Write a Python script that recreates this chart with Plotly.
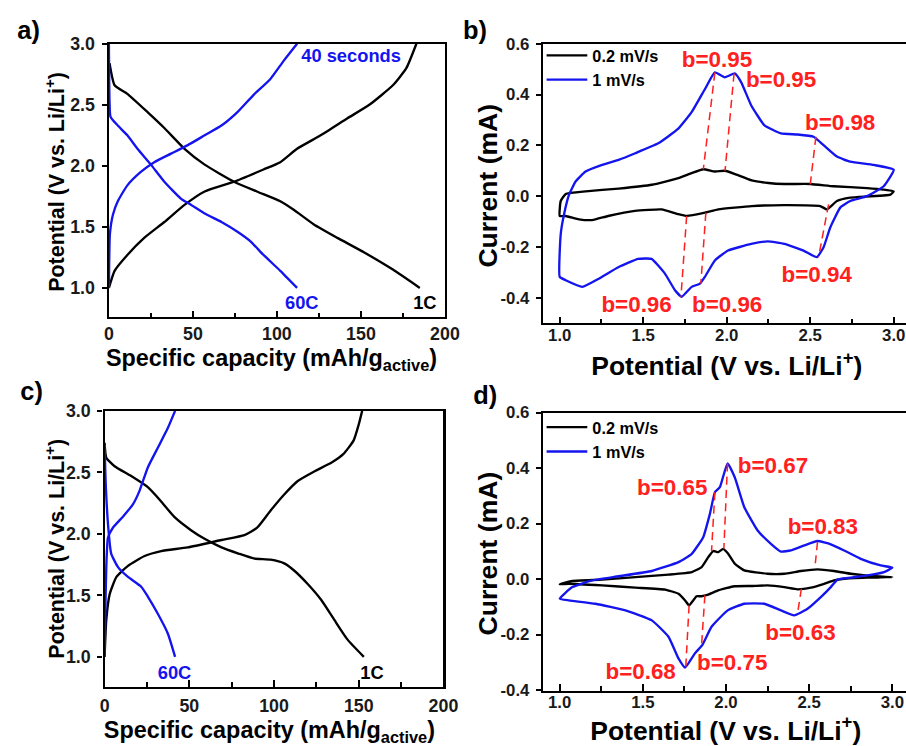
import plotly.graph_objects as go

# ---------------- Data ----------------
# Panel a: galvanostatic curves (capacity mAh/g, potential V)
a_1c_dis_x = [0.4, 3.4, 11, 23, 33, 45, 57, 74.5, 88, 102, 110, 122, 136, 152, 169, 185]
a_1c_dis_y = [2.84, 2.66, 2.59, 2.44, 2.31, 2.14, 2.01, 1.87, 1.79, 1.71, 1.64, 1.52, 1.41, 1.29, 1.15, 1.0]
a_1c_chg_x = [0, 3.4, 11, 21, 33, 45, 57, 74.5, 92, 102, 112, 126, 142, 155, 169, 177, 183]
a_1c_chg_y = [1.0, 1.14, 1.27, 1.41, 1.54, 1.68, 1.79, 1.87, 1.97, 2.03, 2.14, 2.25, 2.39, 2.50, 2.66, 2.80, 3.0]
a_60c_dis_x = [0, 0.4, 1, 5.3, 11, 17, 25, 33, 43, 49, 57, 67, 76.5, 84.4, 92, 102, 112]
a_60c_dis_y = [3.0, 2.52, 2.40, 2.33, 2.25, 2.14, 2.01, 1.87, 1.73, 1.68, 1.61, 1.54, 1.46, 1.38, 1.27, 1.14, 1.0]
a_60c_chg_x = [0, 0.2, 0.6, 2.4, 5.3, 11, 19, 27, 37, 47, 57, 67, 76.5, 86, 96, 104, 112]
a_60c_chg_y = [1.0, 1.22, 1.44, 1.60, 1.71, 1.84, 1.95, 2.03, 2.10, 2.17, 2.25, 2.33, 2.44, 2.58, 2.71, 2.86, 3.0]

# Panel c: galvanostatic curves
c_1c_dis_x = [0, 1, 5.9, 15.7, 25.5, 33, 41, 51, 59, 69, 79, 88, 98, 106, 112, 120, 128, 135.6, 143.4, 153]
c_1c_dis_y = [2.74, 2.62, 2.55, 2.47, 2.38, 2.27, 2.14, 2.03, 1.96, 1.89, 1.84, 1.80, 1.79, 1.76, 1.70, 1.59, 1.46, 1.30, 1.14, 1.0]
c_1c_chg_x = [0, 1, 3, 7, 13.8, 23.6, 33.4, 49, 69, 82.5, 90, 98, 106, 114, 124, 134, 141, 147, 150, 152]
c_1c_chg_y = [1.0, 1.30, 1.51, 1.65, 1.74, 1.82, 1.86, 1.89, 1.95, 1.99, 2.05, 2.19, 2.32, 2.43, 2.51, 2.58, 2.65, 2.76, 2.89, 3.0]
c_60c_dis_x = [0, 0.6, 2, 3.9, 7.9, 13.8, 21.6, 25.5, 31.4, 37.3, 41.6]
c_60c_dis_y = [2.73, 2.43, 2.08, 1.84, 1.73, 1.65, 1.57, 1.49, 1.35, 1.19, 1.0]
c_60c_chg_x = [0, 0.4, 1, 2, 4.9, 10.8, 16.7, 20.6, 25.5, 31.4, 37.3, 41.6]
c_60c_chg_y = [1.0, 1.35, 1.73, 1.97, 2.05, 2.14, 2.24, 2.35, 2.54, 2.70, 2.86, 3.0]

# Panel b: cyclic voltammograms (V, mA)
b_slow_x = [1.0, 1.006, 1.036, 1.155, 1.353, 1.552, 1.71, 1.79, 1.86, 1.93, 1.99, 2.05, 2.15, 2.25, 2.345, 2.50,
            2.64, 2.84, 2.94, 3.0, 2.98, 2.74, 2.66, 2.60, 2.56, 2.345, 2.15, 1.95, 1.87, 1.76, 1.71, 1.61,
            1.45, 1.29, 1.194, 1.115, 1.036, 1.0]
b_slow_y = [-0.078, -0.019, 0.009, 0.019, 0.030, 0.045, 0.071, 0.091, 0.106, 0.097, 0.100, 0.087, 0.062, 0.052,
            0.048, 0.048, 0.039, 0.032, 0.026, 0.019, 0.006, -0.006, -0.019, -0.052, -0.039, -0.035, -0.039,
            -0.052, -0.065, -0.078, -0.071, -0.052, -0.058, -0.078, -0.094, -0.091, -0.078, -0.078]
b_fast_x = [1.0, 1.006, 1.026, 1.056, 1.095, 1.155, 1.254, 1.353, 1.452, 1.59, 1.71, 1.79, 1.87, 1.929, 1.988,
            2.048, 2.087, 2.147, 2.226, 2.325, 2.425, 2.52, 2.58, 2.66, 2.74, 2.88, 3.0, 2.94, 2.84, 2.74, 2.68,
            2.62, 2.58, 2.54, 2.46, 2.345, 2.246, 2.147, 2.008, 1.929, 1.869, 1.84, 1.79, 1.73, 1.69, 1.63,
            1.55, 1.47, 1.353, 1.234, 1.135, 1.036, 1.0]
b_fast_y = [-0.318, -0.149, -0.071, 0.006, 0.058, 0.097, 0.123, 0.143, 0.169, 0.208, 0.266, 0.331, 0.422, 0.487,
            0.468, 0.483, 0.448, 0.357, 0.279, 0.247, 0.243, 0.234, 0.201, 0.156, 0.136, 0.123, 0.104, 0.039,
            0.0, -0.019, -0.045, -0.123, -0.201, -0.240, -0.214, -0.188, -0.178, -0.188, -0.214, -0.253, -0.318,
            -0.344, -0.357, -0.396, -0.370, -0.305, -0.247, -0.247, -0.279, -0.325, -0.357, -0.331, -0.318]
# peak-tracking guides (start/end pairs)
b_guides_x = [[1.929, 1.86], [2.044, 1.99], [2.534, 2.50], [1.76, 1.726], [1.875, 1.845], [2.61, 2.55]]
b_guides_y = [[0.487, 0.106], [0.483, 0.100], [0.234, 0.045], [-0.078, -0.396], [-0.065, -0.344], [-0.032, -0.240]]
b_labels = ["b=0.95", "b=0.95", "b=0.98", "b=0.94", "b=0.96", "b=0.96"]
b_label_x = [1.94, 2.325, 2.68, 2.544, 1.462, 2.004]
b_label_y = [0.539, 0.461, 0.29, -0.309, -0.426, -0.426]

# Panel d: cyclic voltammograms
d_slow_x = [1.0, 1.076, 1.255, 1.455, 1.654, 1.794, 1.853, 1.893, 1.923, 1.953, 1.983, 2.013, 2.053, 2.11, 2.25,
            2.35, 2.45, 2.55, 2.65, 2.75, 2.85, 3.0, 2.85, 2.71, 2.65, 2.59, 2.51, 2.43, 2.35, 2.25, 2.15,
            2.05, 1.953, 1.893, 1.853, 1.823, 1.803, 1.778, 1.754, 1.714, 1.634, 1.455, 1.255, 1.056, 1.0]
d_slow_y = [-0.019, -0.007, -0.002, 0.007, 0.016, 0.025, 0.043, 0.079, 0.101, 0.097, 0.109, 0.091, 0.055, 0.031,
            0.019, 0.019, 0.029, 0.035, 0.029, 0.019, 0.012, 0.007, 0.005, 0.001, -0.005, -0.017, -0.031,
            -0.037, -0.029, -0.023, -0.025, -0.026, -0.041, -0.056, -0.062, -0.062, -0.077, -0.095, -0.077,
            -0.053, -0.038, -0.031, -0.023, -0.017, -0.019]
d_fast_x = [1.0, 1.076, 1.195, 1.355, 1.554, 1.714, 1.794, 1.863, 1.903, 1.933, 1.963, 2.009, 2.053, 2.11, 2.19,
            2.27, 2.33, 2.39, 2.47, 2.55, 2.63, 2.71, 2.81, 2.93, 3.0, 2.95, 2.85, 2.75, 2.67, 2.63, 2.57,
            2.49, 2.41, 2.33, 2.23, 2.11, 2.01, 1.913, 1.857, 1.813, 1.754, 1.714, 1.654, 1.554, 1.395, 1.215,
            1.056, 1.0]
d_fast_y = [-0.071, -0.029, -0.005, 0.010, 0.029, 0.061, 0.091, 0.151, 0.235, 0.313, 0.331, 0.417, 0.366, 0.259,
            0.175, 0.127, 0.099, 0.103, 0.121, 0.137, 0.125, 0.103, 0.073, 0.049, 0.041, 0.025, 0.013, 0.005,
            -0.002, -0.029, -0.065, -0.107, -0.131, -0.113, -0.089, -0.089, -0.113, -0.172, -0.238, -0.268,
            -0.319, -0.286, -0.208, -0.149, -0.113, -0.089, -0.077, -0.071]
d_guides_x = [[1.933, 1.913], [2.009, 1.987], [2.55, 2.537], [1.778, 1.758], [1.873, 1.853], [2.453, 2.433]]
d_guides_y = [[0.313, 0.101], [0.417, 0.109], [0.133, 0.057], [-0.095, -0.316], [-0.059, -0.238], [-0.035, -0.113]]
d_labels = ["b=0.65", "b=0.67", "b=0.83", "b=0.63", "b=0.75", "b=0.68"]
d_label_x = [1.674, 2.282, 2.58, 2.45, 2.04, 1.485]
d_label_y = [0.333, 0.408, 0.189, -0.19, -0.302, -0.334]

gc_xticks = [0, 50, 100, 150, 200]
gc_yticks = [1.0, 1.5, 2.0, 2.5, 3.0]
gc_yticktext = ["1.0", "1.5", "2.0", "2.5", "3.0"]
cv_xticks = [1.0, 1.5, 2.0, 2.5, 3.0]
cv_xticktext = ["1.0", "1.5", "2.0", "2.5", "3.0"]
cv_yticks = [-0.4, -0.2, 0.0, 0.2, 0.4, 0.6]
cv_yticktext = ["-0.4", "-0.2", "0.0", "0.2", "0.4", "0.6"]
legend_names = ["0.2 mV/s", "1 mV/s"]

# ---------------- Styles ----------------
FONT = "Liberation Sans, Arial, sans-serif"
BLACK = "#000000"
BLUE = "#1414ee"
RED = "#ff2020"
TICKCOL = "#1a1a1a"
LW = 2.3

fig = go.Figure()

def add_line(x, y, color, xa, ya, name=None, legend=None, show=False, smooth=0.5):
    fig.add_trace(go.Scatter(x=x, y=y, mode="lines",
                             line=dict(color=color, width=LW, shape="spline", smoothing=smooth),
                             xaxis=xa, yaxis=ya, name=name, showlegend=show,
                             legend=legend, hoverinfo="skip"))

# panel a
add_line(a_1c_dis_x, a_1c_dis_y, BLACK, "x", "y")
add_line(a_1c_chg_x, a_1c_chg_y, BLACK, "x", "y")
add_line(a_60c_dis_x, a_60c_dis_y, BLUE, "x", "y")
add_line(a_60c_chg_x, a_60c_chg_y, BLUE, "x", "y")
# panel c
add_line(c_1c_dis_x, c_1c_dis_y, BLACK, "x3", "y3")
add_line(c_1c_chg_x, c_1c_chg_y, BLACK, "x3", "y3")
add_line(c_60c_dis_x, c_60c_dis_y, BLUE, "x3", "y3")
add_line(c_60c_chg_x, c_60c_chg_y, BLUE, "x3", "y3")
# panel b
add_line(b_slow_x, b_slow_y, BLACK, "x2", "y2", legend_names[0], "legend", True, 0.4)
add_line(b_fast_x, b_fast_y, BLUE, "x2", "y2", legend_names[1], "legend", True, 0.4)
for gx, gy in zip(b_guides_x, b_guides_y):
    fig.add_trace(go.Scatter(x=gx, y=gy, mode="lines", line=dict(color=RED, width=1.5, dash="8px,5px"),
                             xaxis="x2", yaxis="y2", showlegend=False, hoverinfo="skip"))
# panel d
add_line(d_slow_x, d_slow_y, BLACK, "x4", "y4", legend_names[0], "legend2", True, 0.4)
add_line(d_fast_x, d_fast_y, BLUE, "x4", "y4", legend_names[1], "legend2", True, 0.4)
for gx, gy in zip(d_guides_x, d_guides_y):
    fig.add_trace(go.Scatter(x=gx, y=gy, mode="lines", line=dict(color=RED, width=1.5, dash="8px,5px"),
                             xaxis="x4", yaxis="y4", showlegend=False, hoverinfo="skip"))

W, H = 906, 746
def px(v):
    return v / W
def py(v):
    return 1 - v / H

def xaxis(dom, rng, tickvals, ticktext, minor, anchor, standoff, fsize):
    return dict(domain=dom, range=rng, tickvals=tickvals, ticktext=ticktext, anchor=anchor,
                showline=True, linecolor="black", linewidth=2.4, mirror=True,
                ticks="inside", ticklen=6, tickwidth=2, tickcolor="black",
                minor=dict(ticks="inside", ticklen=4, tickwidth=2, tickcolor="black", tickvals=minor),
                showgrid=False, zeroline=False, ticklabelstandoff=standoff,
                tickfont=dict(family=FONT, size=fsize, color=TICKCOL, weight="bold"))

def yaxis(dom, rng, tickvals, ticktext, anchor, standoff, fsize):
    return dict(domain=dom, range=rng, tickvals=tickvals, ticktext=ticktext, anchor=anchor,
                showline=True, linecolor="black", linewidth=2.4, mirror=True,
                ticks="outside", ticklen=5, tickwidth=2, tickcolor="black",
                showgrid=False, zeroline=False, ticklabelstandoff=standoff,
                tickfont=dict(family=FONT, size=fsize, color=TICKCOL, weight="bold"))

gc_minor = [25, 75, 125, 175]
cv_minor = [1.25, 1.75, 2.25, 2.75]

fig.update_layout(
    width=W, height=H, margin=dict(l=0, r=0, t=0, b=0),
    paper_bgcolor="white", plot_bgcolor="white",
    font=dict(family=FONT, color="black"),
    xaxis=xaxis([px(104.3), px(442)], [0, 200], gc_xticks, [str(v) for v in gc_xticks], gc_minor, "y", -1, 17.5),
    yaxis=yaxis([py(316), py(41.7)], [0.76, 3.0], gc_yticks, gc_yticktext, "x", 3, 17.5),
    xaxis2=xaxis([px(540.7), 1.0], [0.901, 3.078], cv_xticks, cv_xticktext, cv_minor, "y2", -5, 16.5),
    yaxis2=yaxis([py(322), py(41.7)], [-0.5, 0.6], cv_yticks, cv_yticktext, "x2", 3, 16.5),
    xaxis3=xaxis([px(100), px(440.5)], [0, 200], gc_xticks, [str(v) for v in gc_xticks], gc_minor, "y3", 2, 17.5),
    yaxis3=yaxis([py(686.7), py(410)], [0.757, 3.0], gc_yticks, gc_yticktext, "x3", 3, 17.5),
    xaxis4=xaxis([px(540.7), 1.0], [0.9007, 3.0866], cv_xticks, cv_xticktext, cv_minor, "y4", -5, 16.5),
    yaxis4=yaxis([py(690.7), py(411.7)], [-0.4025, 0.6], cv_yticks, cv_yticktext, "x4", 3, 16.5),
    legend=dict(x=px(539), y=py(36), xanchor="left", yanchor="top", bgcolor="rgba(0,0,0,0)",
                font=dict(family=FONT, size=16, color="black", weight="bold"), tracegroupgap=0,
                itemwidth=40),
    legend2=dict(x=px(539), y=py(409), xanchor="left", yanchor="top", bgcolor="rgba(0,0,0,0)",
                 font=dict(family=FONT, size=16, color="black", weight="bold"), tracegroupgap=0,
                 itemwidth=40),
)

ann = []
def txt(text, x, y, xref, yref, size, color="black", angle=0, xanchor="center", yanchor="middle"):
    ann.append(dict(text=text, x=x, y=y, xref=xref, yref=yref, showarrow=False, textangle=angle,
                    xanchor=xanchor, yanchor=yanchor,
                    font=dict(family=FONT, size=size, color=color, weight="bold")))

# panel letters
txt("a)", px(24), py(28), "paper", "paper", 25)
txt("b)", px(472), py(28), "paper", "paper", 25)
txt("c)", px(27), py(389), "paper", "paper", 25)
txt("d)", px(483), py(394), "paper", "paper", 25)

# axis titles
gc_xt = "Specific capacity (mAh/g<sub>active</sub>)"
pot_t = "Potential (V vs. Li/Li<sup>+</sup>)"
cur_t = "Current (mA)"
txt(gc_xt, px(268), py(358), "paper", "paper", 23)
txt(pot_t, px(50), py(180), "paper", "paper", 21, angle=-90)
txt(pot_t, px(725), py(363), "paper", "paper", 26)
txt(cur_t, px(485), py(184), "paper", "paper", 26, angle=-90)
txt(gc_xt, px(266), py(731), "paper", "paper", 23)
txt(pot_t, px(50), py(548), "paper", "paper", 21, angle=-90)
txt(pot_t, px(724), py(729), "paper", "paper", 26)
txt(cur_t, px(485), py(553), "paper", "paper", 26, angle=-90)

# curve labels
txt("40 seconds", 113, 2.90, "x", "y", 18, BLUE, xanchor="left")
txt("60C", 115, 0.88, "x", "y", 18, BLUE)
txt("1C", 188, 0.88, "x", "y", 18, BLACK)
txt("60C", 41, 0.87, "x3", "y3", 18, BLUE)
txt("1C", 158, 0.87, "x3", "y3", 18, BLACK)

for t, x, y in zip(b_labels, b_label_x, b_label_y):
    txt(t, x, y, "x2", "y2", 22, RED)
for t, x, y in zip(d_labels, d_label_x, d_label_y):
    txt(t, x, y, "x4", "y4", 22, RED)

fig.update_layout(annotations=ann)

# page framing: pin the figure to the page origin and fill the captured page area
post = (
    "var gd=document.getElementById('{plot_id}');"
    "document.documentElement.style.margin='0';"
    "document.body.style.margin='0';document.body.style.padding='0';"
    "gd.style.position='absolute';gd.style.left='0px';gd.style.top='-8px';"
    "gd.style.transformOrigin='0 0';"
    "gd.style.transform='scale(' + (922/906) + ',' + (762/746) + ')';"
)
fig.write_html("out.html", config={"displayModeBar": False}, post_script=post)
